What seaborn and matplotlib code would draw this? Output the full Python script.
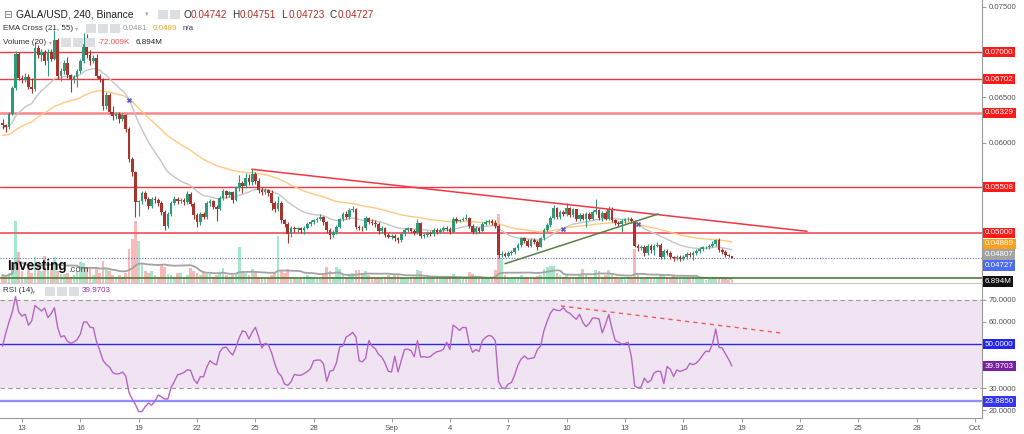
import numpy as np
import pandas as pd
import matplotlib
matplotlib.use("Agg")
import matplotlib.pyplot as plt
import seaborn as sns
from matplotlib.patches import Rectangle

sns.set_theme(style="white")
plt.rcParams['font.family'] = ['Liberation Sans', 'DejaVu Sans']

# ---------------- data ----------------
first_open = 0.0622
close = [0.0619,0.0617,0.0632,0.0660,0.0698,0.0672,0.0669,0.0673,0.0661,0.0659,
         0.0705,0.0697,0.0700,0.0690,0.0700,0.0693,0.0714,0.0674,0.0679,0.0688,
         0.0675,0.0670,0.0673,0.0679,0.0690,0.0709,0.0697,0.0690,0.0694,0.0674,
         0.0670,0.0640,0.0653,0.0634,0.0629,0.0632,0.0626,0.0630,0.0615,0.0582,
         0.0567,0.0534,0.0535,0.0544,0.0538,0.0530,0.0538,0.0537,0.0533,0.0523,
         0.0508,0.0521,0.0533,0.0538,0.0535,0.0537,0.0534,0.0543,0.0532,0.0520,
         0.0512,0.0521,0.0518,0.0533,0.0535,0.0529,0.0527,0.0539,0.0546,0.0542,
         0.0545,0.0536,0.0550,0.0555,0.0552,0.0561,0.0556,0.0565,0.0558,0.0548,
         0.0545,0.0548,0.0544,0.0533,0.0526,0.0533,0.0514,0.0510,0.0499,0.0506,
         0.0504,0.0505,0.0503,0.0506,0.0510,0.0512,0.0514,0.0516,0.0518,0.0512,
         0.0503,0.0498,0.0501,0.0507,0.0515,0.0521,0.0518,0.0525,0.0527,0.0507,
         0.0506,0.0505,0.0517,0.0512,0.0511,0.0510,0.0502,0.0506,0.0498,0.0496,
         0.0497,0.0494,0.0492,0.0499,0.0503,0.0505,0.0502,0.0500,0.0511,0.0497,
         0.0498,0.0500,0.0499,0.0503,0.0501,0.0503,0.0506,0.0504,0.0501,0.0516,
         0.0513,0.0514,0.0516,0.0517,0.0508,0.0501,0.0506,0.0502,0.0510,0.0512,
         0.0513,0.0511,0.0508,0.0476,0.0477,0.0475,0.0478,0.0479,0.0483,0.0487,
         0.0494,0.0491,0.0486,0.0492,0.0490,0.0485,0.0494,0.0503,0.0509,0.0517,
         0.0528,0.0518,0.0523,0.0521,0.0528,0.0520,0.0526,0.0515,0.0520,0.0516,
         0.0521,0.0516,0.0523,0.0525,0.0517,0.0522,0.0516,0.0527,0.0514,0.0511,
         0.0510,0.0513,0.0515,0.0516,0.0513,0.0486,0.0483,0.0485,0.0478,0.0486,
         0.0481,0.0486,0.0487,0.0473,0.0480,0.0478,0.0473,0.0472,0.0474,0.0471,
         0.0474,0.0477,0.0476,0.0478,0.0480,0.0482,0.0484,0.04845,0.0486,0.0488,
         0.0492,0.0481,0.0479,0.0476,0.04742,0.04727]
high = [0.0626,0.0621,0.0634,0.0663,0.0701,0.0700,0.0675,0.0677,0.0676,0.0672,
        0.0711,0.0708,0.0703,0.0702,0.0703,0.0704,0.0725,0.0716,0.0683,0.0691,
        0.0695,0.0676,0.0675,0.0681,0.0692,0.0721,0.0720,0.0702,0.0697,0.0698,
        0.0676,0.0671,0.0656,0.0655,0.0640,0.0634,0.0634,0.0633,0.0632,0.0617,
        0.0584,0.0569,0.0537,0.0546,0.0546,0.0540,0.0540,0.0541,0.0539,0.0535,
        0.0525,0.0523,0.0535,0.0541,0.0540,0.0539,0.0539,0.0546,0.0545,0.0534,
        0.0522,0.0523,0.0523,0.0535,0.0538,0.0537,0.0531,0.0541,0.0549,0.0548,
        0.0547,0.0547,0.0552,0.0564,0.0558,0.0566,0.0565,0.0571,0.0567,0.0561,
        0.0551,0.0550,0.0549,0.0548,0.0535,0.0541,0.0535,0.0516,0.0512,0.0508,
        0.0508,0.0507,0.0507,0.0508,0.0512,0.0514,0.0516,0.0518,0.0521,0.0519,
        0.0513,0.0505,0.0503,0.0509,0.0517,0.0523,0.0524,0.0528,0.0530,0.0528,
        0.0509,0.0508,0.0519,0.0518,0.0515,0.0514,0.0512,0.0508,0.0507,0.0500,
        0.0499,0.0499,0.0496,0.0501,0.0505,0.0507,0.0506,0.0504,0.0515,0.0512,
        0.0500,0.0502,0.0502,0.0505,0.0505,0.0505,0.0508,0.0508,0.0507,0.0518,
        0.0518,0.0516,0.0518,0.0521,0.0518,0.0510,0.0508,0.0507,0.0512,0.0514,
        0.0515,0.0515,0.0514,0.0510,0.0480,0.0479,0.0480,0.0481,0.0485,0.0489,
        0.0496,0.0496,0.0493,0.0494,0.0494,0.0492,0.0496,0.0505,0.0511,0.0519,
        0.0531,0.0529,0.0525,0.0525,0.0533,0.0529,0.0528,0.0527,0.0522,0.0522,
        0.0523,0.0523,0.0525,0.0538,0.0527,0.0524,0.0524,0.0530,0.0529,0.0516,
        0.0513,0.0515,0.0517,0.0518,0.0518,0.0514,0.0488,0.0487,0.0487,0.0488,
        0.0488,0.0488,0.0490,0.0489,0.0482,0.0482,0.0480,0.0475,0.0476,0.0476,
        0.0476,0.0479,0.0479,0.0480,0.0482,0.0484,0.0486,0.0486,0.0488,0.0491,
        0.0493,0.0494,0.0483,0.0481,0.0477,0.04751]
low = [0.0615,0.0612,0.0615,0.0630,0.0658,0.0669,0.0666,0.0667,0.0659,0.0655,
       0.0657,0.0694,0.0690,0.0686,0.0674,0.0690,0.0691,0.0670,0.0668,0.0676,
       0.0672,0.0656,0.0666,0.0661,0.0677,0.0688,0.0694,0.0686,0.0688,0.0671,
       0.0667,0.0636,0.0637,0.0632,0.0625,0.0626,0.0622,0.0624,0.0612,0.0579,
       0.0563,0.0518,0.0519,0.0532,0.0535,0.0527,0.0528,0.0533,0.0530,0.0520,
       0.0503,0.0505,0.0519,0.0531,0.0532,0.0533,0.0531,0.0532,0.0530,0.0515,
       0.0507,0.0509,0.0515,0.0516,0.0530,0.0527,0.0513,0.0525,0.0536,0.0539,
       0.0540,0.0533,0.0535,0.0547,0.0544,0.0550,0.0553,0.0553,0.0554,0.0544,
       0.0542,0.0543,0.0541,0.0525,0.0523,0.0524,0.0511,0.0507,0.0489,0.0496,
       0.0501,0.0501,0.0500,0.0499,0.0504,0.0508,0.0510,0.0512,0.0514,0.0509,
       0.0500,0.0493,0.0496,0.0499,0.0505,0.0513,0.0515,0.0516,0.0523,0.0504,
       0.0503,0.0502,0.0503,0.0510,0.0509,0.0507,0.0499,0.0500,0.0496,0.0494,
       0.0493,0.0491,0.0489,0.0490,0.0497,0.0501,0.0500,0.0498,0.0499,0.0494,
       0.0495,0.0496,0.0497,0.0497,0.0499,0.0500,0.0501,0.0502,0.0499,0.0500,
       0.0511,0.0512,0.0513,0.0514,0.0506,0.0499,0.0499,0.0500,0.0501,0.0509,
       0.0510,0.0509,0.0505,0.0472,0.0473,0.0473,0.0474,0.0476,0.0477,0.0481,
       0.0485,0.0489,0.0484,0.0484,0.0488,0.0481,0.0484,0.0492,0.0501,0.0507,
       0.0515,0.0515,0.0515,0.0519,0.0519,0.0518,0.0518,0.0513,0.0513,0.0514,
       0.0507,0.0514,0.0514,0.0521,0.0514,0.0513,0.0514,0.0514,0.0512,0.0509,
       0.0508,0.0501,0.0511,0.0513,0.0511,0.0484,0.0480,0.0481,0.0475,0.0476,
       0.0478,0.0476,0.0484,0.0471,0.0471,0.0476,0.0471,0.0469,0.0470,0.0469,
       0.0470,0.0471,0.0473,0.0470,0.0476,0.0478,0.0480,0.0482,0.0482,0.0484,
       0.0486,0.0479,0.0477,0.0474,0.0473,0.04723]
volume_m = [18.4,13.8,23.0,32.2,142.6,71.3,27.6,13.8,32.2,23.0,
            59.8,41.4,27.6,62.1,50.6,32.2,59.8,27.6,20.7,20.7,
            23.0,13.8,18.4,27.6,48.3,46.0,32.2,34.5,18.4,34.5,
            23.0,50.6,32.2,27.6,18.4,13.8,18.4,13.8,23.0,78.2,
            101.2,142.6,96.6,43.7,27.6,23.0,27.6,18.4,13.8,43.7,
            36.8,20.7,18.4,13.8,23.0,23.0,13.8,18.4,34.5,27.6,
            23.0,18.4,27.6,20.7,20.7,13.8,18.4,23.0,34.5,18.4,
            13.8,18.4,23.0,82.8,27.6,23.0,18.4,32.2,27.6,13.8,
            13.8,11.5,13.8,18.4,23.0,108.1,27.6,23.0,32.2,13.8,
            11.5,9.2,11.5,13.8,18.4,13.8,11.5,9.2,9.2,23.0,
            36.8,27.6,13.8,36.8,32.2,18.4,13.8,18.4,23.0,29.9,
            29.9,23.0,27.6,18.4,13.8,11.5,13.8,11.5,13.8,18.4,
            13.8,18.4,20.7,13.8,11.5,9.2,11.5,13.8,29.9,27.6,
            13.8,9.2,9.2,11.5,9.2,9.2,11.5,9.2,11.5,20.7,
            11.5,9.2,9.2,13.8,25.3,20.7,11.5,9.2,11.5,9.2,
            11.5,13.8,29.9,158.7,55.2,18.4,11.5,11.5,13.8,13.8,
            18.4,11.5,13.8,9.2,11.5,16.1,18.4,32.2,36.8,39.1,
            39.1,23.0,18.4,13.8,18.4,11.5,9.2,11.5,18.4,32.2,
            18.4,13.8,11.5,29.9,27.6,13.8,18.4,29.9,23.0,13.8,
            9.2,11.5,9.2,13.8,11.5,78.2,23.0,13.8,11.5,13.8,
            11.5,9.2,13.8,20.7,18.4,13.8,11.5,16.1,11.5,9.2,
            9.2,11.5,9.2,11.5,11.5,9.2,9.2,6.9,9.2,9.2,
            11.5,9.2,9.2,9.2,6.9,6.894]
rsi = [49,55,60,64.5,71.5,64.5,62.7,63.5,58.5,60.5,
       67.5,66.3,65,66.3,62,63.8,66.5,57.5,53.2,53.8,
       51.3,50.3,50.9,52,54.5,60,60,57.6,57.4,51,
       47,42.5,40.7,39.5,37,36.4,36.5,37.2,35.5,28,
       25,22.5,19.2,19.3,21.5,23.2,22.2,24,26.8,26,
       25,25,30.3,33,36,36.4,37.1,38.3,38,34,
       32,35.1,35.1,39.5,42.4,41.2,40.5,46.4,48.3,48.6,
       46.5,45,48.5,52.8,56,55.5,52.3,55.3,57.6,53.2,
       48.2,50.3,49.6,46,41,37,35.4,31.8,31.2,32.8,
       36.2,35.8,35.8,36.5,37.4,38.8,42.4,42.7,42.7,41,
       33,37.7,38,41.5,48.6,49.2,53.2,54,55.3,53.2,
       42.4,41.9,43.5,51.6,49,47.8,45.3,44,41.3,37.6,
       37.3,44.5,37.3,42.5,47.5,47.7,47,44.2,51.5,44,
       44.3,43.9,44.3,45.6,46.5,46.8,47.6,50.8,47.5,58.6,
       57.5,56.2,57.6,57.4,50,46.2,47.5,46.6,51.5,53,
       53.9,53.5,51.5,33,30.2,29.7,31.8,32.5,36,40.5,
       43.2,44.6,43.2,43.5,43.8,47.5,49.1,56,60.3,64,
       65.9,65.3,65.2,66.5,64.7,64,62.5,61.2,63.5,59.8,
       57.9,59.3,61.8,61.8,61.4,55,59,63.4,57,51.5,
       50.9,50,50.2,50.8,44,31,30,30.5,34.5,32.5,
       33.5,36.9,37.6,37.5,32,39.8,38.5,35.2,38.2,37.5,
       38.1,38.7,41.2,40.6,41.3,42.9,45,46.8,46.5,50,
       56.8,48.5,48.2,45.5,43,39.9703]
ema21_start = 0.0617
ema55_start = 0.0608

level_values = [0.07000, 0.06702, 0.06329, 0.05508, 0.05000]
level_texts = ["0.07000", "0.06702", "0.06329", "0.05508", "0.05000"]
support_level = 0.04500
ema_label_values = [0.04889, 0.04807]
ema_label_texts = ["0.04889", "0.04807"]
last_price_text = "0.04727"
volume_text = "6.894M"
price_ticks = [0.060, 0.065, 0.075]

down_trend_dates = ["2021-08-24 19:30", "2021-09-22 08:40"]
down_trend_prices = [0.05705, 0.05019]
up_trend_dates = ["2021-09-06 20:00", "2021-09-14 17:00"]
up_trend_prices = [0.04660, 0.05210]
rsi_trend_dates = ["2021-09-09 17:00", "2021-09-21 03:00"]
rsi_trend_values = [67.3, 54.9]
rsi_band = [30, 70]
rsi_lines = [50.0, 23.885]
rsi_label_texts = ["50.0000", "39.9703", "23.8850"]
rsi_ticks = [20, 30, 60, 70]

tick_dates = ["2021-08-13", "2021-08-16", "2021-08-19", "2021-08-22", "2021-08-25",
              "2021-08-28", "2021-09-01", "2021-09-04", "2021-09-07", "2021-09-10",
              "2021-09-13", "2021-09-16", "2021-09-19", "2021-09-22", "2021-09-25",
              "2021-09-28", "2021-10-01"]
tick_labels = ["13", "16", "19", "22", "25", "28", "Sep", "4", "7", "10", "13",
               "16", "19", "22", "25", "28", "Oct"]

n = len(close)
assert len(high) == n and len(low) == n and len(volume_m) == n and len(rsi) == n

# ---------------- derived ----------------
ref = pd.Timestamp("2021-08-13")
times = pd.Timestamp("2021-08-12 00:00") + pd.to_timedelta(np.arange(n) * 4, unit="h")
days = ((times - ref) / pd.Timedelta(days=1)).values.astype(float)


def to_days(strs):
    return ((pd.to_datetime(strs) - ref) / pd.Timedelta(days=1)).values.astype(float)


close_a = np.array(close)
open_a = np.concatenate([[first_open], close_a[:-1]])
high_a = np.array(high)
low_a = np.array(low)
up = close_a >= open_a


def ema(values, span, start):
    a = 2.0 / (span + 1)
    out = np.empty(len(values))
    cur = start
    for k, v in enumerate(values):
        if k > 0:
            cur = cur + a * (v - cur)
        out[k] = cur
    return out


ema21 = ema(close_a, 21, ema21_start)
ema55 = ema(close_a, 55, ema55_start)
vol_ma = pd.Series(volume_m).rolling(20, min_periods=1).mean().values

# ---------------- figure ----------------
W, H = 1024, 434
PX_DAY = 19.45
X0 = 22.0
fig = plt.figure(figsize=(W / 100, H / 100), dpi=100)
fig.patch.set_facecolor("white")

ax = fig.add_axes([0, 1 - 283 / H, 982 / W, 283 / H])
ax_r = fig.add_axes([0, 1 - 418 / H, 982 / W, 134 / H])
ax_v = ax.twinx()
ax.set_zorder(ax_v.get_zorder() + 1)
ax.patch.set_visible(False)

xlim = (-X0 / PX_DAY, (982 - X0) / PX_DAY)
for a in (ax, ax_r, ax_v):
    a.set_xlim(*xlim)
ax.set_ylim(0.075 - 276 * 0.025 / 226, 0.075 + 7 * 0.025 / 226)
ax_r.set_ylim(50 - 74 / 2.2, 50 + 60 / 2.2)
ax_v.set_ylim(0, 283 * 2.3)

# volume
vol_colors = np.where(up, "#a6e6cb", "#f9b9b9")
ax_v.bar(days, volume_m, width=0.14, color=vol_colors, linewidth=0, zorder=1)
sns.lineplot(x=days, y=vol_ma, ax=ax_v, color="#a3a3a3", linewidth=1.3, zorder=2)
ax_v.set_axis_off()

# horizontal levels
level_colors = ["#f23645", "#f23645", "#f7868c", "#f23645", "#f45b63"]
level_widths = [1.0, 1.0, 1.8, 1.0, 1.3]
for v, c, lw in zip(level_values, level_colors, level_widths):
    ax.axhline(v, color=c, lw=lw, zorder=1)
ax.axhline(close_a[-1], color="#5a6cf0", lw=0.8, ls=(0, (1, 1.5)), zorder=1)
ax.axhline(support_level, color="#4f7a3a", lw=1.2, zorder=1)

# EMA lines
sns.lineplot(x=days, y=ema55, ax=ax, color="#ffc981", linewidth=1.0, zorder=2)
sns.lineplot(x=days, y=ema21, ax=ax, color="#c6c6c6", linewidth=1.0, zorder=2)
diff = np.sign(ema21 - ema55)
cross_idx = np.where(diff[1:] != diff[:-1])[0] + 1
ax.scatter(days[cross_idx], ema21[cross_idx], marker="X", s=14, color="#5361c4",
           linewidths=0, zorder=5)

# candles
col = np.where(up, "#2e9a78", "#a7352d")
ax.vlines(days, low_a, high_a, colors=col, linewidth=0.8, zorder=3)
body_bottom = np.minimum(open_a, close_a)
body_h = np.maximum(np.abs(close_a - open_a), 0.00003)
ax.bar(days, body_h, bottom=body_bottom, width=0.14, color=col, linewidth=0, zorder=4)

# trend lines
ax.plot(to_days(down_trend_dates), down_trend_prices, color="#f23645", lw=1.1, zorder=5)
ax.plot(to_days(up_trend_dates), up_trend_prices, color="#5b8046", lw=1.1, zorder=5)

# price axis styling
ax.set_xticks([])
ax.yaxis.tick_right()
ax.set_yticks(price_ticks)
ax.set_yticklabels(["%.5f" % v for v in price_ticks])
ax.tick_params(axis="y", labelsize=5.6, labelcolor="#555555", color="#8a8a8a",
               length=3, width=0.6, pad=2, right=True, left=False)
for s in ("left", "top"):
    ax.spines[s].set_visible(False)
ax.spines["right"].set_color("#9a9a9a")
ax.spines["right"].set_linewidth(0.8)
ax.spines["bottom"].set_color("#c8c8c8")
ax.spines["bottom"].set_linewidth(0.8)
ax.grid(False)

# RSI pane
ax_r.axhspan(rsi_band[0], rsi_band[1], color="#f1e4f2", zorder=0, lw=0)
for v in rsi_band:
    ax_r.axhline(v, color="#9b9b9b", lw=0.8, ls=(0, (4, 3)), zorder=1)
ax_r.axhline(rsi_lines[0], color="#2b2bd9", lw=1.0, zorder=1)
ax_r.axhline(rsi_lines[1], color="#8f8ff7", lw=1.7, zorder=1)
sns.lineplot(x=days, y=rsi, ax=ax_r, color="#b565c4", linewidth=1.0, zorder=3)
ax_r.plot(to_days(rsi_trend_dates), rsi_trend_values, color="#f25a5a", lw=1.0,
          ls=(0, (3, 3)), zorder=4)
ax_r.yaxis.tick_right()
ax_r.set_yticks(rsi_ticks)
ax_r.set_yticklabels(["%.4f" % v for v in rsi_ticks])
ax_r.tick_params(axis="y", labelsize=5.6, labelcolor="#555555", color="#8a8a8a",
                 length=3, width=0.6, pad=2, right=True, left=False)
ax_r.set_xticks(to_days(tick_dates))
ax_r.set_xticklabels(tick_labels)
ax_r.tick_params(axis="x", labelsize=5.6, labelcolor="#555555", color="#8a8a8a",
                 length=3, width=0.6, pad=2, bottom=True)
for s in ("left", "top"):
    ax_r.spines[s].set_visible(False)
for s in ("right", "bottom"):
    ax_r.spines[s].set_color("#9a9a9a")
    ax_r.spines[s].set_linewidth(0.8)
ax_r.grid(False)
ax_r.set_xlabel("")
ax_r.set_ylabel("")
ax.set_xlabel("")
ax.set_ylabel("")


# ---------------- right-hand value boxes ----------------
def y_px(a, v):
    return H - a.transData.transform((xlim[0], v))[1]


def box(ypix, text, fc, tc="white"):
    fig.text(985 / W, 1 - ypix / H, text, fontsize=5.8, color=tc, ha="left",
             va="center", zorder=20,
             bbox=dict(boxstyle="square,pad=0.2", fc=fc, ec="none"))


price_boxes = [(y_px(ax, v), t, "#ff1a1a") for v, t in zip(level_values, level_texts)]
price_boxes += [(y_px(ax, ema_label_values[0]), ema_label_texts[0], "#ff9f1a"),
                (y_px(ax, ema_label_values[1]), ema_label_texts[1], "#a3a3a3"),
                (y_px(ax, close_a[-1]), last_price_text, "#4d6bef")]
price_boxes.sort(key=lambda b: b[0])
prev = -100
for yp, t, fc in price_boxes:
    yp = max(yp, prev + 10.8)
    box(yp, t, fc)
    prev = yp
box(281.5, volume_text, "#111111")

box(y_px(ax_r, rsi_lines[0]), rsi_label_texts[0], "#2424f0")
box(y_px(ax_r, rsi[-1]), rsi_label_texts[1], "#7b1fa2")
box(y_px(ax_r, rsi_lines[1]), rsi_label_texts[2], "#3535f5")


# ---------------- legends ----------------
def t(x, y, s, size=5.8, color="#333333", weight="normal"):
    fig.text(x / W, 1 - y / H, s, fontsize=size, color=color, ha="left",
             va="center", weight=weight, zorder=20)


def icons(x, y, k):
    for j in range(k):
        fig.add_artist(Rectangle(((x + 12 * j) / W, 1 - (y + 4.5) / H), 10 / W, 9 / H,
                                 transform=fig.transFigure, fc="#dcdee3", ec="none",
                                 zorder=19))


t(3, 14.5, "\u229f", size=7.5, color="#777777")
t(16, 14.5, "GALA/USD, 240, Binance", size=7.4, color="#222222")
t(145, 15, "\u25be", size=5, color="#aaaaaa")
icons(158, 14.5, 2)
ohlc = [("O", "0.04742"), ("H", "0.04751"), ("L", "0.04723"), ("C", "0.04727")]
for k, (lab, val) in enumerate(ohlc):
    x = 183 + 49 * k
    t(x, 14.5, lab, size=7.2, color="#333333")
    t(x + 7.5, 14.5, val, size=7.2, color="#b0302a")

t(3, 28.5, "EMA Cross (21, 55)", size=5.8)
t(75, 29, "\u25be", size=4.5, color="#aaaaaa")
icons(86, 28.5, 3)
t(123, 28.5, "0.0481", size=5.8, color="#9a9a9a")
t(153, 28.5, "0.0489", size=5.8, color="#f5a623")
t(183, 28.5, "n/a", size=5.8, color="#2b3a9a")

t(3, 42.5, "Volume (20)", size=5.8)
t(49, 43, "\u25be", size=4.5, color="#aaaaaa")
icons(61, 42.5, 3)
t(98, 42.5, "-72.009K", size=5.8, color="#ef5350")
t(136, 42.5, "6.894M", size=5.8, color="#222222")

t(3, 291, "RSI (14)", size=5.8)
t(32, 291.5, "\u25be", size=4.5, color="#aaaaaa")
icons(45, 291, 3)
t(82, 291, "39.9703", size=5.8, color="#9c27b0")

# watermark
t(7, 266, "Investing", size=9.8, color="#111111", weight="bold")
t(68, 269, ".com", size=6.8, color="#555555")

fig.savefig("out.png", dpi=100, facecolor="white")
